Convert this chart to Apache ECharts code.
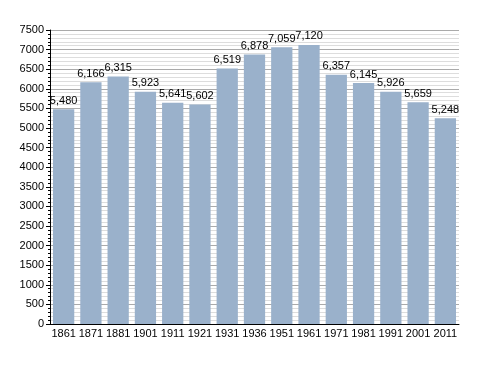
<!DOCTYPE html>
<html><head><meta charset="utf-8">
<script src="https://cdn.jsdelivr.net/npm/echarts@6/dist/echarts.min.js"></script>
<style>html,body{margin:0;padding:0;background:#fff}#c{width:488px;height:373px}</style>
</head><body><div id="c"></div>
<script>
const categories = ['1861','1871','1881','1901','1911','1921','1931','1936','1951','1961','1971','1981','1991','2001','2011'];
const population = [5480,6166,6315,5923,5641,5602,6519,6878,7059,7120,6357,6145,5926,5659,5248];
const chart = echarts.init(document.getElementById('c'));
const font = 'Liberation Sans, Arial, sans-serif';
chart.setOption({
  animation: false,
  backgroundColor: '#fff',
  grid: {left: 50, right: 29, top: 30, bottom: 49, containLabel: false},
  xAxis: {
    type: 'category', data: categories,
    axisLine: {lineStyle: {color: '#000', width: 1}},
    axisTick: {show: false},
    axisLabel: {color: '#000', fontSize: 11, fontFamily: font, margin: 4, interval: 0}
  },
  yAxis: {
    type: 'value', min: 0, max: 7500, interval: 500,
    axisLine: {show: true, lineStyle: {color: '#000'}},
    axisTick: {show: true, length: 4, lineStyle: {color: '#000'}},
    minorTick: {show: true, splitNumber: 5, length: 2, lineStyle: {color: '#000'}},
    splitLine: {show: true, lineStyle: {color: '#aaaaaa', width: 1}},
    minorSplitLine: {show: true, lineStyle: {color: '#dddddd', width: 1}},
    axisLabel: {color: '#000', fontSize: 11, fontFamily: font, margin: 6, formatter: v => String(v)}
  },
  series: [{
    type: 'bar', data: population,
    barCategoryGap: '22%',
    itemStyle: {color: '#9ab1cb'},
    label: {show: true, position: 'top', color: '#000', fontSize: 11, fontFamily: font, distance: 3,
      formatter: p => p.value.toLocaleString('en-US')}
  }]
});
</script></body></html>
